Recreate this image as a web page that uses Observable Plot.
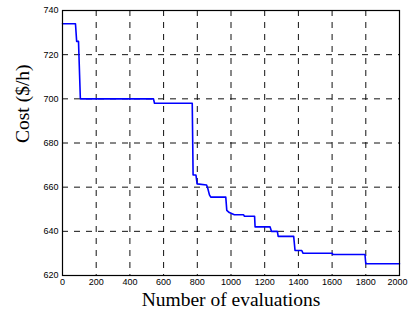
<!DOCTYPE html>
<html>
<head>
<meta charset="utf-8">
<script src="https://cdn.jsdelivr.net/npm/d3@7"></script>
<script src="https://cdn.jsdelivr.net/npm/@observablehq/plot@0.6"></script>
<style>
  html, body { margin: 0; padding: 0; background: #fff; }
  #chart { width: 408px; height: 312px; }
</style>
</head>
<body>
<div id="chart"></div>
<script>
const evaluations = [0, 77, 84, 95, 106, 540, 546, 770, 775, 792, 799, 855, 862, 872, 880, 969, 975, 990, 1020, 1075, 1080, 1140, 1143, 1232, 1240, 1275, 1280, 1372, 1380, 1420, 1427, 1600, 1605, 1795, 1800, 2000];
const cost = [734, 734, 726, 726, 700, 700, 698, 698, 665.5, 665.5, 661.5, 661, 659.5, 656.5, 655.5, 655.5, 649.5, 648.5, 647.5, 647.5, 646.8, 646.8, 642, 642, 640, 640, 637.7, 637.7, 631.3, 631.3, 630.1, 630.1, 629.5, 629.5, 625.3, 625.3];
const xTicks = [0, 200, 400, 600, 800, 1000, 1200, 1400, 1600, 1800];
const xLastTick = [2000];
const yTicks = [620, 640, 660, 680, 700, 720, 740];
const xGrid = [200, 400, 600, 800, 1000, 1200, 1400, 1600, 1800];
const yGrid = [640, 660, 680, 700, 720];
const xLabel = "Number of evaluations";
const yLabel = "Cost ($/h)";

const data = evaluations.map((x, i) => ({x, y: cost[i]}));

const chart = Plot.plot({
  width: 408,
  height: 312,
  marginLeft: 62,
  marginRight: 9,
  marginTop: 10,
  marginBottom: 37,
  style: {fontFamily: "'Liberation Sans', Arial, sans-serif", fontSize: "9px", color: "#000", background: "#fff", overflow: "visible"},
  x: {domain: [0, 2000], axis: null},
  y: {domain: [620, 740], axis: null},
  marks: [
    Plot.ruleX(xGrid, {stroke: "#111", strokeWidth: 1, strokeDasharray: "6,6"}),
    Plot.ruleY(yGrid, {stroke: "#111", strokeWidth: 1, strokeDasharray: "6,6"}),
    Plot.line(data, {x: "x", y: "y", stroke: "#0000ff", strokeWidth: 1.6}),
    Plot.frame({stroke: "#000", strokeWidth: 1.2}),
    Plot.text(xTicks, {x: d => d, frameAnchor: "bottom", lineAnchor: "top", dy: 3, text: d => String(d), fill: "#000"}),
    Plot.text(xLastTick, {x: d => d, frameAnchor: "bottom", lineAnchor: "top", dy: 3, textAnchor: "end", dx: 8, text: d => String(d), fill: "#000"}),
    Plot.text(yTicks, {y: d => d, frameAnchor: "left", dx: -4, textAnchor: "end", text: d => String(d), fill: "#000"}),
    Plot.text([xLabel], {frameAnchor: "bottom", dy: 24, lineAnchor: "middle", fontFamily: "'Liberation Serif', 'Times New Roman', serif", fontSize: 19.5, fill: "#000"}),
    Plot.text([yLabel], {frameAnchor: "left", dx: -40, rotate: -90, fontFamily: "'Liberation Serif', 'Times New Roman', serif", fontSize: 19.5, fill: "#000"})
  ]
});
document.getElementById("chart").appendChild(chart);
</script>
</body>
</html>
